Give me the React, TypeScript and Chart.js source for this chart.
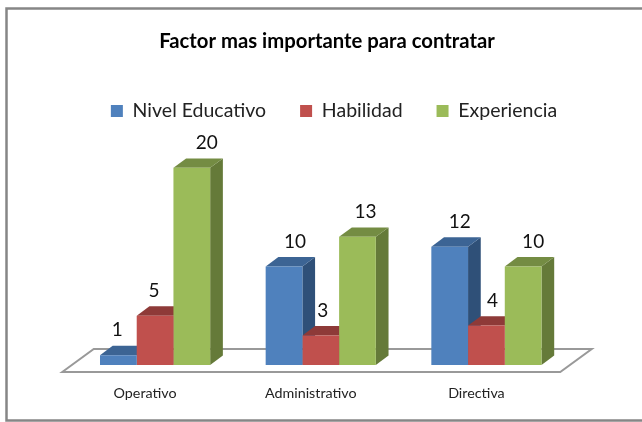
import React, { useEffect, useRef } from "react";
import { Chart, registerables } from "chart.js";

Chart.register(...registerables);

const categories = ["Operativo", "Administrativo", "Directiva"];
const seriesNames = ["Nivel Educativo", "Habilidad", "Experiencia"];
const nivelEducativo = [1, 10, 12];
const habilidad = [5, 3, 4];
const experiencia = [20, 13, 10];

const frontColors = ["#4F81BD", "#C0504D", "#9BBB59"];
const topColors = ["#3C6494", "#8E3A38", "#748C43"];
const sideColors = ["#2F5078", "#7A302E", "#657A39"];

const DEPTH_X = 12.7;
const DEPTH_Y = 9.4;
const Y_MAX = 23.75;
const labelNudge = [
  [-1, 11, 10],
  [-1, 2, 6],
  [15, 8, 10],
];

const poly = (ctx: CanvasRenderingContext2D, pts: number[][], fill: string) => {
  ctx.beginPath();
  pts.forEach(([x, y], i) => (i ? ctx.lineTo(x, y) : ctx.moveTo(x, y)));
  ctx.closePath();
  ctx.fillStyle = fill;
  ctx.fill();
};

const frame3d = {
  id: "frame3d",
  afterLayout(chart: any) {
    chart.legend.left += 13;
    chart.legend.right += 13;
    chart.legend.adjustHitBoxes?.();
    chart.titleBlock.left += 6;
    chart.titleBlock.right += 6;
  },
  beforeDraw(chart: any) {
    const { ctx, width, height } = chart;
    ctx.save();
    ctx.fillStyle = "#FFFFFF";
    ctx.fillRect(0, 0, width, height);
    ctx.strokeStyle = "#868686";
    ctx.lineWidth = 2.5;
    ctx.beginPath();
    ctx.moveTo(width, 8.5);
    ctx.lineTo(6.5, 8.5);
    ctx.lineTo(6.5, 420.5);
    ctx.lineTo(width, 420.5);
    ctx.stroke();
    ctx.restore();
  },
  beforeDatasetsDraw(chart: any) {
    const { ctx, chartArea } = chart;
    const base = chartArea.bottom;
    ctx.save();
    // Floor of the 3D plot
    ctx.strokeStyle = "#999999";
    ctx.lineWidth = 2;
    ctx.beginPath();
    ctx.moveTo(chartArea.left - 10, base + 7);
    ctx.lineTo(chartArea.left + 21.5, base - 16);
    ctx.lineTo(chartArea.right + 22.5, base - 16);
    ctx.lineTo(chartArea.right - 9, base + 7);
    ctx.closePath();
    ctx.stroke();
    // Top and side faces of each bar
    chart.data.datasets.forEach((_: any, d: number) => {
      chart.getDatasetMeta(d).data.forEach((bar: any) => {
        const w = bar.width / 2;
        const l = bar.x - w;
        const r = bar.x + w;
        const t = bar.y;
        const b = bar.base;
        poly(ctx, [[r, t], [r + DEPTH_X, t - DEPTH_Y], [r + DEPTH_X, b - DEPTH_Y], [r, b]], sideColors[d]);
        poly(ctx, [[l, t], [l + DEPTH_X, t - DEPTH_Y], [r + DEPTH_X, t - DEPTH_Y], [r, t]], topColors[d]);
      });
    });
    ctx.restore();
  },
  afterDatasetsDraw(chart: any) {
    const { ctx } = chart;
    ctx.save();
    ctx.font = "19px Lato";
    ctx.fillStyle = "#111111";
    ctx.textAlign = "center";
    ctx.textBaseline = "middle";
    chart.data.datasets.forEach((ds: any, d: number) => {
      chart.getDatasetMeta(d).data.forEach((bar: any, i: number) => {
        ctx.fillText(String(ds.data[i]), bar.x + labelNudge[d][i], bar.y - 25);
      });
    });
    ctx.restore();
  },
};

const hiddenSideAxis = (position: string, width: number) => ({
  display: true,
  position,
  grid: { display: false },
  border: { display: false },
  ticks: { display: false },
  afterFit: (s: any) => {
    s.width = width;
  },
});

export default function App() {
  const ref = useRef<HTMLCanvasElement>(null);
  useEffect(() => {
    document.body.style.margin = "0";
    const series = [nivelEducativo, habilidad, experiencia];
    const chart = new Chart(ref.current!, {
      type: "bar",
      data: {
        labels: categories,
        datasets: seriesNames.map((label, i) => ({
          label,
          data: series[i],
          backgroundColor: frontColors[i],
          borderWidth: 0,
          categoryPercentage: 0.665,
          barPercentage: 1,
          yAxisID: "y",
        })),
      },
      plugins: [frame3d],
      options: {
        responsive: false,
        animation: false,
        layout: { padding: { left: 12, right: 12, top: 0, bottom: 0 } },
        plugins: {
          tooltip: { enabled: false },
          title: {
            display: true,
            text: "Factor mas importante para contratar",
            color: "#000000",
            font: { family: "Lato", size: 20.3, weight: "bold" },
            padding: { top: 29, bottom: 14 },
          },
          legend: {
            display: true,
            position: "top",
            labels: {
              boxWidth: 12,
              boxHeight: 12,
              padding: 34,
              color: "#222222",
              font: { family: "Lato", size: 19.5 },
            },
          },
        },
        scales: {
          x: {
            grid: { display: false },
            border: { display: false },
            afterFit: (s: any) => {
              s.height = 57;
            },
            ticks: {
              padding: 12,
              labelOffset: -10,
              maxRotation: 0,
              autoSkip: false,
              color: "#222222",
              font: { family: "Lato", size: 14.3 },
            },
          },
          y: { ...hiddenSideAxis("left", 60.25), min: 0, max: Y_MAX },
          yRight: { ...hiddenSideAxis("right", 60.75), min: 0, max: Y_MAX },
        },
      },
    } as any);
    return () => chart.destroy();
  }, []);
  return <canvas ref={ref} width={642} height={422} style={{ display: "block", width: 642, height: 422 }} />;
}
